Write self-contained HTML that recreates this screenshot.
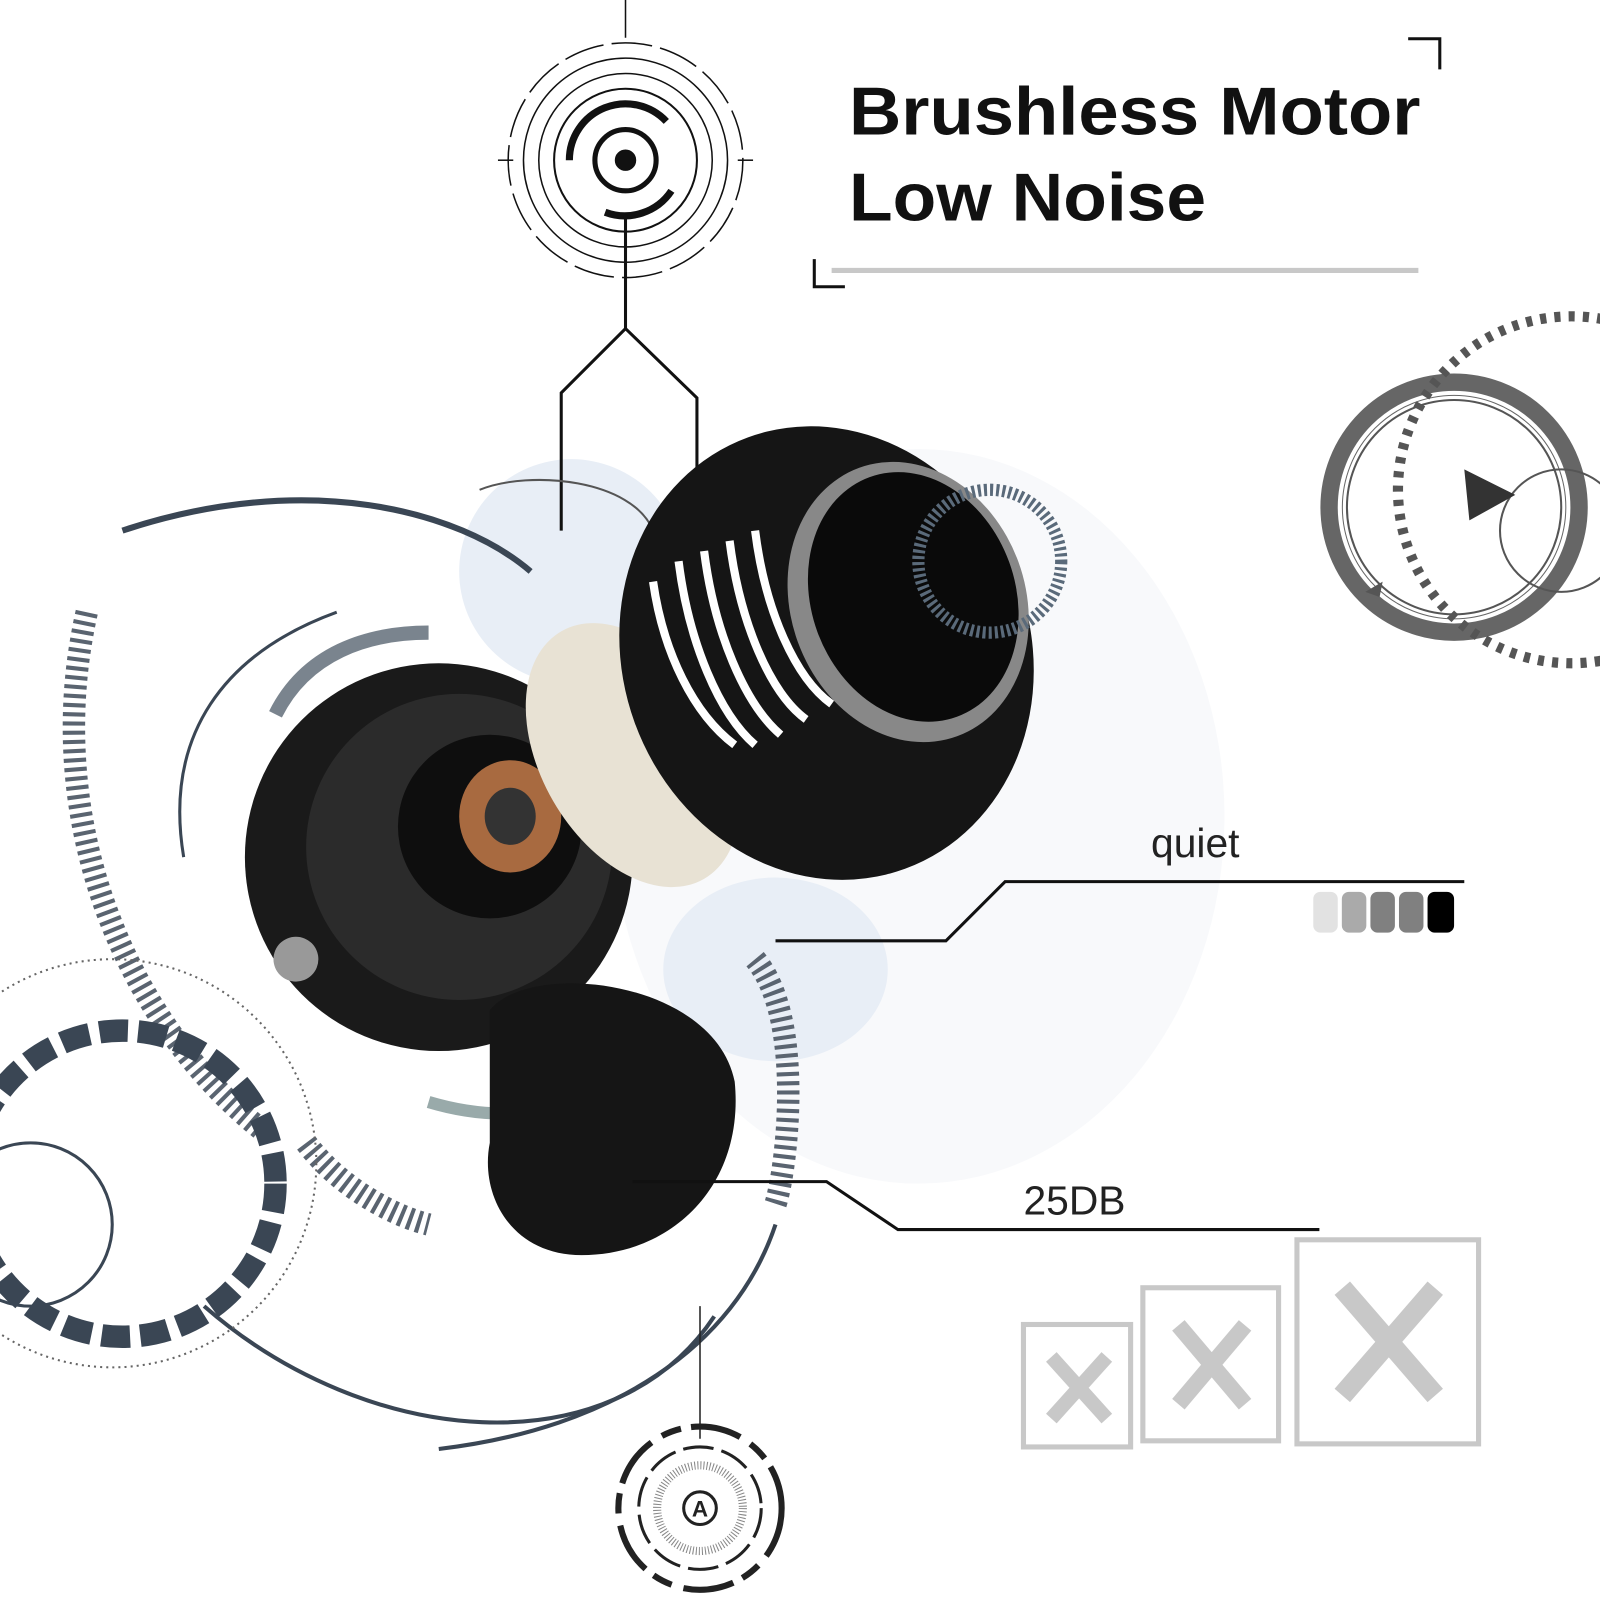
<!DOCTYPE html>
<html><head><meta charset="utf-8"><style>
html,body{margin:0;padding:0;background:#fff;}
svg{display:block}
</style></head><body>
<svg width="1600" height="1600" viewBox="0 0 1568 1568" xmlns="http://www.w3.org/2000/svg" font-family="Liberation Sans, sans-serif">
<rect width="1568" height="1568" fill="#fff"/>
<ellipse cx="900" cy="800" rx="300" ry="360" fill="#f8f9fb"/>
<ellipse cx="560" cy="560" rx="110" ry="110" fill="#e8eef6"/>
<ellipse cx="760" cy="950" rx="110" ry="90" fill="#e8eef6"/>

<text x="832" y="132" font-size="66" font-weight="bold" fill="#111" textLength="560" lengthAdjust="spacingAndGlyphs">Brushless Motor</text>
<text x="832" y="216" font-size="66" font-weight="bold" fill="#111" textLength="350" lengthAdjust="spacingAndGlyphs">Low Noise</text>
<path d="M1380 38 H1411 V68" fill="none" stroke="#111" stroke-width="3"/>
<path d="M798 254 V281 H828" fill="none" stroke="#111" stroke-width="3"/>
<line x1="815" y1="265" x2="1390" y2="265" stroke="#c8c8c8" stroke-width="5"/>

<g transform="translate(613,157)" fill="none" stroke="#111">
<circle r="115" stroke-width="1.5" stroke-dasharray="40 8"/>
<circle r="100" stroke-width="1.5"/>
<circle r="85" stroke-width="1.5"/>
<circle r="70" stroke-width="2"/>
<path d="M-55 0 A55 55 0 0 1 40 -38" stroke-width="7"/>
<path d="M45 30 A55 55 0 0 1 -20 51" stroke-width="7"/>
<circle r="30" stroke-width="5"/>
<circle r="10" fill="#111"/>
<line x1="0" y1="-160" x2="0" y2="-120" stroke-width="1.5"/>
<line x1="-125" y1="0" x2="-110" y2="0" stroke-width="1.5"/>
<line x1="110" y1="0" x2="125" y2="0" stroke-width="1.5"/>
</g>
<path d="M613 210 V322 L550 385 V520 M613 322 L683 390 V690" fill="none" stroke="#111" stroke-width="3"/>

<g fill="none">
<path d="M120 520 C300 460 450 500 520 560" stroke="#3a4654" stroke-width="6"/>
<path d="M85 600 C40 800 120 1000 260 1110" stroke="#5a6470" stroke-width="22" stroke-dasharray="4 5"/>
<path d="M180 840 C160 720 220 640 330 600" stroke="#3a4654" stroke-width="3"/>
<path d="M270 700 C300 640 360 620 420 620" stroke="#7a848e" stroke-width="14"/>
<path d="M300 1120 C330 1160 380 1190 420 1200" stroke="#5a6470" stroke-width="22" stroke-dasharray="4 5"/>
<path d="M200 1280 C360 1420 600 1440 700 1290" stroke="#3a4654" stroke-width="4"/>
<path d="M760 1200 C720 1320 600 1400 430 1420" stroke="#3a4654" stroke-width="4"/>
<path d="M740 940 C790 1000 770 1150 760 1180" stroke="#5a6470" stroke-width="22" stroke-dasharray="4 5"/>
<path d="M600 1000 C620 1080 520 1110 420 1080" stroke="#9aa" stroke-width="12"/>
<circle cx="120" cy="1160" r="150" stroke="#3a4654" stroke-width="22" stroke-dasharray="28 10"/>
<circle cx="30" cy="1200" r="80" stroke="#3a4654" stroke-width="3"/>
<circle cx="110" cy="1140" r="200" stroke="#666" stroke-width="2" stroke-dasharray="2 4"/>
<path d="M470 480 C520 460 620 470 640 520" stroke="#555" stroke-width="2"/>
</g>

<g>
<ellipse cx="430" cy="840" rx="190" ry="190" fill="#1a1a1a"/>
<ellipse cx="450" cy="830" rx="150" ry="150" fill="#2b2b2b"/>
<ellipse cx="480" cy="810" rx="90" ry="90" fill="#0e0e0e"/>
<ellipse cx="500" cy="800" rx="50" ry="55" fill="#a86a40"/>
<ellipse cx="500" cy="800" rx="25" ry="28" fill="#333"/>
<circle cx="290" cy="940" r="22" fill="#999"/>
<path d="M480 990 C520 940 700 960 720 1060 C730 1160 660 1230 570 1230 C500 1230 470 1170 480 1120 Z" fill="#151515"/>
<ellipse cx="620" cy="740" rx="90" ry="140" fill="#e8e2d4" transform="rotate(-30 620 740)"/>
<ellipse cx="810" cy="640" rx="200" ry="225" fill="#151515" transform="rotate(-20 810 640)"/>
<ellipse cx="890" cy="590" rx="115" ry="140" fill="#888" transform="rotate(-20 890 590)"/>
<ellipse cx="895" cy="585" rx="100" ry="125" fill="#0a0a0a" transform="rotate(-20 895 585)"/>
<g stroke="#fff" stroke-width="8" fill="none">
<path d="M640 570 C650 640 680 700 720 730"/>
<path d="M665 550 C675 630 705 700 740 730"/>
<path d="M690 540 C700 620 730 690 765 720"/>
<path d="M715 530 C725 610 755 680 790 705"/>
<path d="M740 520 C750 600 780 665 815 690"/>
</g>
<circle cx="970" cy="550" r="70" fill="none" stroke="#5a6a7a" stroke-width="12" stroke-dasharray="3 3"/>
</g>

<text x="1128" y="840" font-size="40" fill="#222">quiet</text>
<path d="M760 922 H927 L985 864 H1435" fill="none" stroke="#111" stroke-width="3"/>
<rect x="1287" y="874" width="24" height="40" rx="7" fill="#e2e2e2"/>
<rect x="1315" y="874" width="24" height="40" rx="7" fill="#aaa"/>
<rect x="1343" y="874" width="24" height="40" rx="7" fill="#808080"/>
<rect x="1371" y="874" width="24" height="40" rx="7" fill="#808080"/>
<rect x="1399" y="874" width="26" height="40" rx="7" fill="#000"/>

<text x="1003" y="1190" font-size="40" fill="#222">25DB</text>
<path d="M620 1158 H810 L880 1205 H1293" fill="none" stroke="#111" stroke-width="3"/>

<g fill="none" stroke="#c8c8c8" stroke-width="5">
<rect x="1003" y="1298" width="105" height="120"/>
<rect x="1120" y="1262" width="133" height="150"/>
<rect x="1271" y="1215" width="178" height="200"/>
</g>
<g stroke="#c8c8c8" stroke-linecap="square">
<path d="M1035 1335 L1080 1385 M1080 1335 L1035 1385" stroke-width="14"/>
<path d="M1160 1305 L1215 1370 M1215 1305 L1160 1370" stroke-width="16"/>
<path d="M1322 1270 L1400 1360 M1400 1270 L1322 1360" stroke-width="20"/>
</g>

<g fill="none">
<circle cx="1425" cy="497" r="120" stroke="#666" stroke-width="22"/>
<circle cx="1425" cy="497" r="112" stroke="#fff" stroke-width="4"/>
<circle cx="1425" cy="497" r="105" stroke="#555" stroke-width="2"/>
<circle cx="1540" cy="480" r="170" stroke="#555" stroke-width="10" stroke-dasharray="6 8"/>
<circle cx="1530" cy="520" r="60" stroke="#555" stroke-width="2"/>
</g>
<path d="M1435 460 L1485 485 L1440 510 Z" fill="#333"/>
<path d="M1338 580 L1355 570 L1352 585 Z" fill="#555"/>

<line x1="686" y1="1280" x2="686" y2="1410" stroke="#222" stroke-width="1.5"/>
<g transform="translate(686,1478)" fill="none" stroke="#222">
<circle r="80" stroke-width="6" stroke-dasharray="50 12 20 10"/>
<circle r="60" stroke-width="3" stroke-dasharray="30 8"/>
<circle r="42" stroke-width="8" stroke-dasharray="1 2" stroke="#888"/>
<circle r="16" stroke-width="3" fill="#fff"/>
</g>
<text x="686" y="1486" font-size="22" font-weight="bold" text-anchor="middle" fill="#222">A</text>
</svg>
</body></html>
